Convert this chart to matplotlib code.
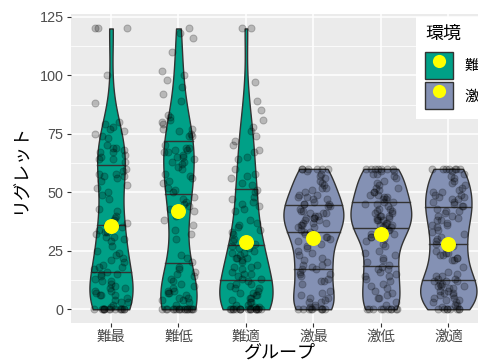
import numpy as np
import matplotlib.pyplot as plt
from matplotlib.patches import Patch
from matplotlib.lines import Line2D
from matplotlib.legend_handler import HandlerTuple

plt.rcParams['font.family'] = ['Liberation Sans', 'Noto Sans CJK JP']

groups = ['難最', '難低', '難適', '激最', '激低', '激適']
group_env = [0, 0, 0, 1, 1, 1]
env_labels = ['難しい', '激しい']
env_colors = ['#00A087', '#8491B4']

# regret per participant, one list per group
r_nansai = ([0] * 14
            + [1, 2, 3, 3, 4, 5, 6, 6, 6, 7, 8, 8, 9, 9, 10]
            + [11, 12, 12, 13, 14, 15, 15, 16, 17, 18, 18, 19, 20]
            + [21, 22, 23, 24, 25, 27, 29, 30]
            + [31, 31, 32, 33, 33, 34, 35, 36, 37, 38, 39, 40]
            + [42, 43, 47, 49, 50]
            + [52, 53, 55, 56, 57, 57, 58, 58, 59, 60]
            + [63, 64, 64, 65, 66, 67, 67, 68, 69, 69, 70]
            + [73, 74, 75, 76, 77, 78, 79, 80]
            + [88, 100, 120, 120, 120])
r_nantei = ([0] * 17
            + [2, 3, 4, 4, 5, 5, 6, 7, 7, 8, 8, 9, 10]
            + [11, 12, 13, 14, 15, 16, 17, 18, 20]
            + [22, 23, 30]
            + [32, 34, 36, 38, 40]
            + [41, 42, 43, 44, 45, 46, 47, 48, 50]
            + [51, 52, 54, 55, 56, 57, 58, 60]
            + [61, 62, 63, 63, 64, 65, 65, 66, 67, 67, 68, 68, 69, 69, 70]
            + [74, 74, 75, 76, 77, 77, 79, 80, 81, 82, 83]
            + [89, 92, 95, 98, 100, 102, 110, 116, 118, 120])
r_nanteki = ([0] * 18
             + [1, 1, 2, 2, 3, 3, 4, 5, 5, 6, 6, 7, 7, 8, 9, 9, 10]
             + [11, 11, 12, 13, 13, 14, 15, 15, 16, 17, 18, 18, 19, 20]
             + [21, 22, 22, 22, 23, 24, 24, 25, 26, 26, 27, 28, 29, 30]
             + [32, 33, 34, 35, 36, 37, 38]
             + [42, 43, 44, 45, 46, 47, 48, 50]
             + [51, 53, 54, 56, 57, 58, 60]
             + [64, 65, 67, 68, 70, 72]
             + [74, 76, 78, 81, 85, 89, 97, 120, 120])
r_gekisai = ([0] * 9
             + [1, 1, 2, 3, 3, 4, 5, 5, 6, 7, 8]
             + [11, 12, 12, 13, 14, 15, 15, 16, 17, 17, 18, 19, 19, 20]
             + [21, 22, 23, 24, 25, 26, 27, 28, 29, 29, 30]
             + [31, 31, 32, 33, 33, 34, 35, 35, 36, 36, 37, 37, 37, 38, 38, 39, 39, 39, 40, 40]
             + [41, 41, 41, 42, 42, 43, 44, 44, 45, 45, 45, 46, 47, 47, 48, 48, 49, 49, 50]
             + [51, 52, 52, 53, 54, 55, 56, 57, 58, 59]
             + [60] * 6)
r_gekitei = ([0] * 10
             + [2, 3, 5, 5, 6, 7, 8, 9, 10]
             + [11, 12, 13, 14, 14, 15, 16, 17, 17, 18, 19, 20]
             + [21, 22, 23, 24, 25, 27, 28, 29, 30]
             + [31, 31, 32, 32, 33, 34, 34, 35, 35, 36, 36, 36, 37, 37, 38, 38, 38, 39, 39, 40, 40, 40]
             + [41, 41, 42, 42, 43, 43, 44, 45, 45, 46, 46, 47, 47, 48, 48, 49, 49, 50, 50]
             + [51, 52, 52, 53, 54, 55, 56, 57, 58, 58, 59, 59]
             + [60] * 7)
r_gekiteki = ([0] * 8
              + [1, 2, 2, 3, 3, 4, 4, 5, 5, 6, 6, 7, 7, 8, 8, 9, 9, 10, 10, 10]
              + [11, 11, 12, 12, 12, 13, 13, 14, 14, 15, 16, 18]
              + [21, 21, 22, 22, 23, 23, 24, 24, 25, 26, 27, 28, 29, 30]
              + [31, 32, 33, 34, 35, 36, 36, 37, 38, 38, 39, 40, 40]
              + [41, 42, 42, 43, 44, 44, 45, 46, 46, 47, 47, 48, 48, 49, 49, 50, 50]
              + [51, 52, 53, 54, 55, 56, 57, 58, 59]
              + [60] * 7)

regret = [r_nansai, r_nantei, r_nanteki, r_gekisai, r_gekitei, r_gekiteki]


def bw_nrd0(x):
    sd = np.std(x, ddof=1)
    q75, q25 = np.percentile(x, [75, 25])
    return 0.9 * min(sd, (q75 - q25) / 1.34) * len(x) ** -0.2


def violin_density(x, n=512):
    # gaussian kde, trimmed to the data range
    x = np.asarray(x, dtype=float)
    bw = bw_nrd0(x)
    ys = np.linspace(x.min(), x.max(), n)
    z = (ys[:, None] - x[None, :]) / bw
    d = np.exp(-0.5 * z ** 2).sum(axis=1) / (len(x) * bw * np.sqrt(2 * np.pi))
    return ys, d


fig = plt.figure(figsize=(4.78, 3.62), dpi=100)
ax = fig.add_axes([0.1475, 0.1069, 0.8751, 0.8533])
ax.set_facecolor('#EBEBEB')

dens = [violin_density(v) for v in regret]
dmax = max(d.max() for _, d in dens)
rng = np.random.default_rng(7)

for i, ((ys, d), vals) in enumerate(zip(dens, regret)):
    xc = i + 1
    hw = 0.45 * d / dmax
    ax.fill_betweenx(ys, xc - hw, xc + hw, facecolor=env_colors[group_env[i]],
                     edgecolor='#333333', linewidth=1.0, zorder=2)
    # quartile lines from the density, like ggplot's draw_quantiles
    cdf = np.cumsum(d) / d.sum()
    for q in (0.25, 0.5, 0.75):
        yq = np.interp(q, cdf, ys)
        w = np.interp(yq, ys, hw)
        ax.plot([xc - w, xc + w], [yq, yq], color='#333333', lw=1.0, zorder=3)
    jit = rng.uniform(-0.25, 0.25, len(vals))
    ax.scatter(xc + jit, vals, s=26, color='black', alpha=0.22,
               edgecolors='black', linewidths=0.7, zorder=4)
    ax.scatter([xc], [np.mean(vals)], s=95, color='#FFFF00', zorder=5)

ax.set_xlim(0.4, 6.6)
ax.set_ylim(-6, 126)
ax.set_xticks(range(1, 7))
ax.set_xticklabels(groups)
ax.set_yticks([0, 25, 50, 75, 100, 125])
ax.set_yticks(np.arange(12.5, 125, 25), minor=True)
ax.grid(which='major', color='white', linewidth=1.1)
ax.grid(which='minor', axis='y', color='white', linewidth=0.55)
ax.set_axisbelow(True)
for s in ax.spines.values():
    s.set_visible(False)
ax.tick_params(which='major', length=3, width=0.8, color='#333333',
               labelcolor='#4D4D4D', labelsize=10.4, pad=2)
ax.tick_params(which='minor', length=0)
ax.set_xlabel('グループ', fontsize=13, labelpad=0)
ax.set_ylabel('リグレット', fontsize=13, labelpad=7)

handles = [(Patch(facecolor=c, edgecolor='#333333', linewidth=1.0),
            Line2D([], [], marker='o', ls='', markersize=9.5,
                   markerfacecolor='#FFFF00', markeredgecolor='none'))
           for c in env_colors]
leg = fig.legend(handles, env_labels, handler_map={tuple: HandlerTuple(ndivide=1, pad=0)},
                 loc='upper left', bbox_to_anchor=(416 / 478, 1 - 17 / 362),
                 title='環境', title_fontsize=13, fontsize=10.4, alignment='left',
                 frameon=True, fancybox=False, facecolor='white', edgecolor='none',
                 framealpha=1, handlelength=1.94, handleheight=2.5, labelspacing=0.21,
                 handletextpad=0.75, borderpad=0.65, borderaxespad=0)
# more room between the title and the keys
leg._legend_box.sep = 6.5

fig.savefig('out.png', dpi=100)
